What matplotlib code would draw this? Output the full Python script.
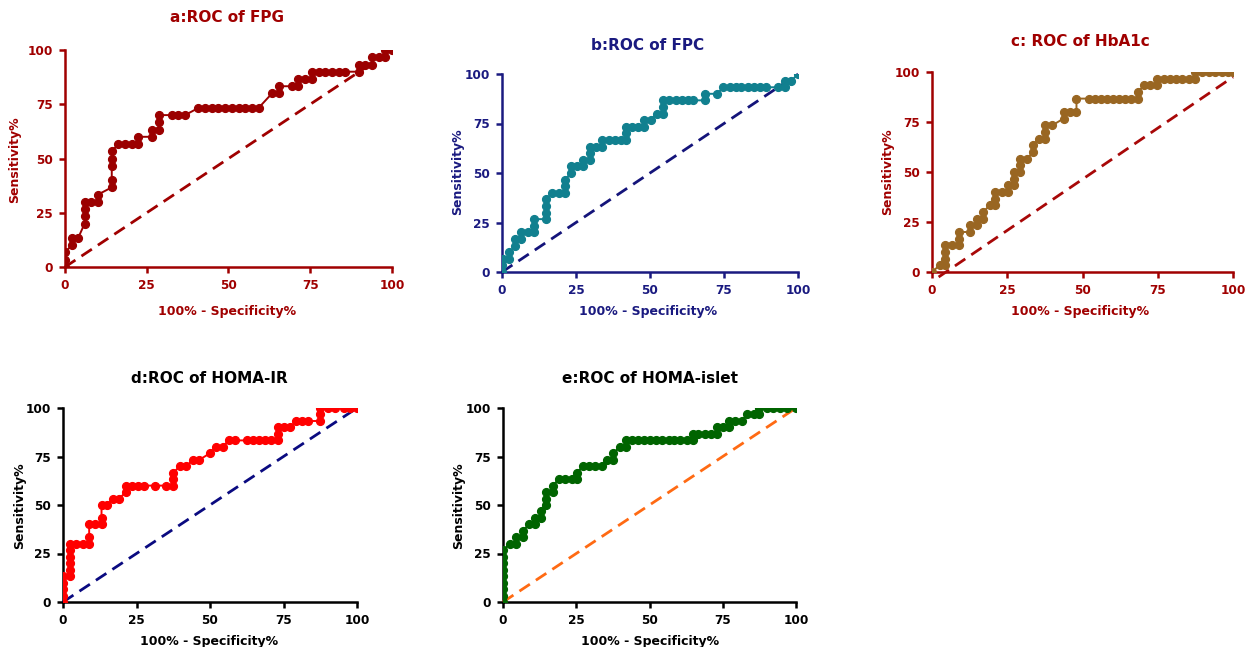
import matplotlib
matplotlib.use("Agg")
import matplotlib.pyplot as plt

plt.rcParams['font.family'] = ['DejaVu Sans']
plt.rcParams['font.weight'] = 'bold'

W, H = 1249, 647

# ---------------- data (100% - Specificity%, Sensitivity%) ----------------
fpg_x = [0, 0, 0, 2, 2, 4, 6, 6, 6, 6, 8, 10, 10, 14.3, 14.3, 14.3, 14.3, 14.3,
         16.3, 18.4, 20.4, 22.4, 22.4, 26.5, 26.5, 28.6, 28.6, 28.6, 32.7, 34.7, 36.7,
         40.8, 42.9, 44.9, 46.9, 49.0, 51.0, 53.1, 55.1, 57.1, 59.2,
         63.3, 65.3, 65.3, 69.4, 71.4, 71.4, 73.5, 75.5, 75.5, 77.6, 79.6, 81.6, 83.7, 85.7,
         89.8, 89.8, 91.8, 93.9, 93.9, 95.9, 98.0, 98.0, 100]
fpg_y = [0, 3.3, 6.7, 10, 13.3, 13.3, 20, 23.3, 26.7, 30, 30, 30, 33.3, 36.7, 40, 46.7, 50, 53.3,
         56.7, 56.7, 56.7, 56.7, 60, 60, 63.3, 63.3, 66.7, 70, 70, 70, 70,
         73.3, 73.3, 73.3, 73.3, 73.3, 73.3, 73.3, 73.3, 73.3, 73.3,
         80, 80, 83.3, 83.3, 83.3, 86.7, 86.7, 86.7, 90, 90, 90, 90, 90, 90,
         90, 93.3, 93.3, 93.3, 96.7, 96.7, 96.7, 100, 100]

fpc_x = [0, 0, 0.3, 2.5, 2.5, 4.5, 4.5, 6.4, 6.4, 8.7, 10.9, 10.9, 10.9,
         15, 15, 15, 15, 16.9, 19.1, 21.3, 21.3, 21.3, 23.3, 23.3, 25.3, 27.5, 27.5,
         29.6, 29.6, 29.6, 31.8, 33.7, 33.7, 36, 38.2, 40.1, 41.9, 41.9, 41.9,
         43.8, 46, 48, 48, 50.2, 52.2, 54.3, 54.3, 54.3, 56.5, 58.8, 60.7, 62.9, 64.6,
         68.5, 68.5, 72.7, 74.7, 77, 79, 80.9, 83.1, 85.1, 87.1, 89.3, 93.3, 95.5, 95.5, 97.8, 100]
fpc_y = [0, 3.3, 6.7, 6.7, 10, 13.3, 16.7, 16.7, 20, 20, 20, 23.3, 26.7,
         26.7, 30, 33.3, 36.7, 40, 40, 40, 43.3, 46.7, 50, 53.3, 53.3, 53.3, 56.7,
         56.7, 60, 63.3, 63.3, 63.3, 66.7, 66.7, 66.7, 66.7, 66.7, 70, 73.3,
         73.3, 73.3, 73.3, 76.7, 76.7, 80, 80, 83.3, 86.7, 86.7, 86.7, 86.7, 86.7, 86.7,
         86.7, 90, 90, 93.3, 93.3, 93.3, 93.3, 93.3, 93.3, 93.3, 93.3, 93.3, 93.3, 96.7, 96.7, 100]

hba_x = [0, 2.5, 4.4, 4.4, 4.4, 4.4, 6.6, 8.9, 8.9, 8.9, 12.7, 12.7, 15, 15, 16.9, 16.9,
         19.2, 21, 21, 21, 23.3, 25.2, 25.2, 27.4, 27.4, 27.4, 29.3, 29.3, 29.3,
         31.6, 33.6, 33.6, 35.4, 37.7, 37.7, 37.7, 39.9, 43.7, 43.7, 45.7, 48, 48,
         52, 54.3, 56.1, 58.1, 60.1, 62, 64.2, 66.1, 68.3, 68.3, 70.5, 72.5, 74.8, 74.8,
         77, 79, 81.2, 83, 85.3, 87.5, 87.5, 89.7, 91.9, 94.1, 96.3, 98.5, 100]
hba_y = [0, 3.3, 3.3, 6.7, 10, 13.3, 13.3, 13.3, 16.7, 20, 20, 23.3, 23.3, 26.7, 26.7, 30,
         33.3, 33.3, 36.7, 40, 40, 40, 43.3, 43.3, 46.7, 50, 50, 53.3, 56.7,
         56.7, 60, 63.3, 66.7, 66.7, 70, 73.3, 73.3, 76.7, 80, 80, 80, 86.7,
         86.7, 86.7, 86.7, 86.7, 86.7, 86.7, 86.7, 86.7, 86.7, 90, 93.3, 93.3, 93.3, 96.7,
         96.7, 96.7, 96.7, 96.7, 96.7, 96.7, 100, 100, 100, 100, 100, 100, 100]

homair_x = [0, 0, 0, 0, 0, 2.3, 2.3, 2.3, 2.3, 2.3, 2.3, 4.5, 6.8, 8.9, 8.9, 8.9,
            10.8, 13.1, 13.1, 13.1, 15, 17, 19.1, 21.4, 21.4, 23.6, 25.6, 27.6, 31.3, 35.2,
            37.5, 37.5, 37.5, 39.8, 42, 44.1, 46.4, 50, 52, 54.3, 56.3, 58.5,
            62.5, 64.5, 66.5, 68.8, 70.7, 73, 73, 73, 75, 77.3, 79.3, 81.3, 83.5,
            87.5, 87.5, 87.5, 90.3, 92.6, 95.5, 97.7, 100]
homair_y = [0, 3.3, 6.7, 10, 13.3, 13.3, 16.7, 20, 23.3, 26.7, 30, 30, 30, 30, 33.3, 40,
            40, 40, 43.3, 50, 50, 53.3, 53.3, 56.7, 60, 60, 60, 60, 60, 60,
            60, 63.3, 66.7, 70, 70, 73.3, 73.3, 76.7, 80, 80, 83.3, 83.3,
            83.3, 83.3, 83.3, 83.3, 83.3, 83.3, 86.7, 90, 90, 90, 93.3, 93.3, 93.3,
            93.3, 96.7, 100, 100, 100, 100, 100, 100]

islet_x = [0, 0, 0, 0, 0, 0, 0, 0, 0, 2.3, 4.5, 4.5, 6.8, 6.8, 8.8, 11, 11, 13.1, 13.1,
           14.8, 14.8, 14.8, 17, 17, 19, 21.3, 23.5, 25.2, 25.2, 27.3, 29.5, 31.5, 33.8,
           35.5, 37.7, 37.7, 39.8, 42, 42,
           44, 46, 48.2, 50.2, 52.3, 54.2, 56.5, 58.4, 60.5, 62.7, 64.8, 64.8,
           66.7, 69, 70.9, 73, 73, 75.2, 77.3, 77.3, 79.2, 81.5, 83.2, 85.5, 87.5, 87.5,
           90, 92.3, 94.5, 96.8, 100]
islet_y = [0, 3.3, 6.7, 10, 13.3, 16.7, 20, 23.3, 26.7, 30, 30, 33.3, 33.3, 36.7, 40, 40, 43.3, 43.3, 46.7,
           50, 53.3, 56.7, 56.7, 60, 63.3, 63.3, 63.3, 63.3, 66.7, 70, 70, 70, 70,
           73.3, 73.3, 76.7, 80, 80, 83.3,
           83.3, 83.3, 83.3, 83.3, 83.3, 83.3, 83.3, 83.3, 83.3, 83.3, 83.3, 86.7,
           86.7, 86.7, 86.7, 86.7, 90, 90, 90, 93.3, 93.3, 93.3, 96.7, 96.7, 96.7, 100,
           100, 100, 100, 100, 100]

ticks = [0, 25, 50, 75, 100]
tick_labels = ["0", "25", "50", "75", "100"]
titles = ["a:ROC of FPG", "b:ROC of FPC", "c: ROC of HbA1c", "d:ROC of HOMA-IR", "e:ROC of HOMA-islet"]
xlab = "100% - Specificity%"
ylab = "Sensitivity%"

# ---------------- styling ----------------
DARKRED = "#a00000"
NAVY = "#1a1a80"
panels = [
    dict(x=fpg_x, y=fpg_y, box=(65, 392, 50, 267), axc=DARKRED, cc="#9b0000", dc="#a00000",
         diag=((0, 0), (100, 100)), title=(227, 18), xl=(227, 311), yl=(15, 160)),
    dict(x=fpc_x, y=fpc_y, box=(502, 798, 74, 272), axc=NAVY, cc="#11808f", dc="#14147a",
         diag=((0, 0), (100, 100)), title=(648, 45), xl=(648, 311), yl=(458, 172)),
    dict(x=hba_x, y=hba_y, box=(932, 1233, 72, 272), axc=DARKRED, cc="#996622", dc="#a80808",
         diag=((2.2, -2.5), (100, 97.5)), title=(1080, 41), xl=(1080, 311), yl=(888, 172)),
    dict(x=homair_x, y=homair_y, box=(63, 357, 408, 602), axc="black", cc="#ff0000", dc="#0a0a80",
         diag=((0, 0), (100, 100)), title=(209, 378), xl=(209, 641), yl=(20, 506)),
    dict(x=islet_x, y=islet_y, box=(503, 796, 408, 602), axc="black", cc="#006400", dc="#ff6a13",
         diag=((0, 0), (100, 100)), title=(650, 378), xl=(650, 641), yl=(459, 506)),
]

fig = plt.figure(figsize=(W / 100, H / 100), dpi=100)

for p, title in zip(panels, titles):
    x0, x1, yt, yb = p["box"]
    ax = fig.add_axes([x0 / W, 1 - yb / H, (x1 - x0) / W, (yb - yt) / H])
    ax.set_xlim(0, 100)
    ax.set_ylim(0, 100)
    (d0, d1) = p["diag"]
    ax.plot([d0[0], d1[0]], [d0[1], d1[1]], color=p["dc"], lw=2.0, ls=(0, (4.5, 2.6)),
            clip_on=False, zorder=2)
    ax.plot(p["x"], p["y"], color=p["cc"], lw=1.4, marker="o", ms=5.6, mec=p["cc"],
            mfc=p["cc"], clip_on=True, zorder=3)
    for s in ["top", "right"]:
        ax.spines[s].set_visible(False)
    for s in ["left", "bottom"]:
        ax.spines[s].set_color(p["axc"])
        ax.spines[s].set_linewidth(1.8)
        ax.spines[s].set_zorder(1)
    ax.set_xticks(ticks)
    ax.set_yticks(ticks)
    ax.set_xticklabels(tick_labels)
    ax.set_yticklabels(tick_labels)
    ax.tick_params(axis="both", colors=p["axc"], width=1.8, length=4.5, labelsize=8.7,
                   pad=4)
    for lab in ax.get_xticklabels() + ax.get_yticklabels():
        lab.set_fontweight("bold")
    ax.patch.set_alpha(0)
    fig.text(p["title"][0] / W, 1 - p["title"][1] / H, title, ha="center", va="center",
             fontsize=11, fontweight="bold", color=p["axc"])
    fig.text(p["xl"][0] / W, 1 - p["xl"][1] / H, xlab, ha="center", va="center",
             fontsize=9, fontweight="bold", color=p["axc"])
    fig.text(p["yl"][0] / W, 1 - p["yl"][1] / H, ylab, ha="center", va="center",
             rotation=90, fontsize=9, fontweight="bold", color=p["axc"])

fig.savefig("out.png", dpi=100)
